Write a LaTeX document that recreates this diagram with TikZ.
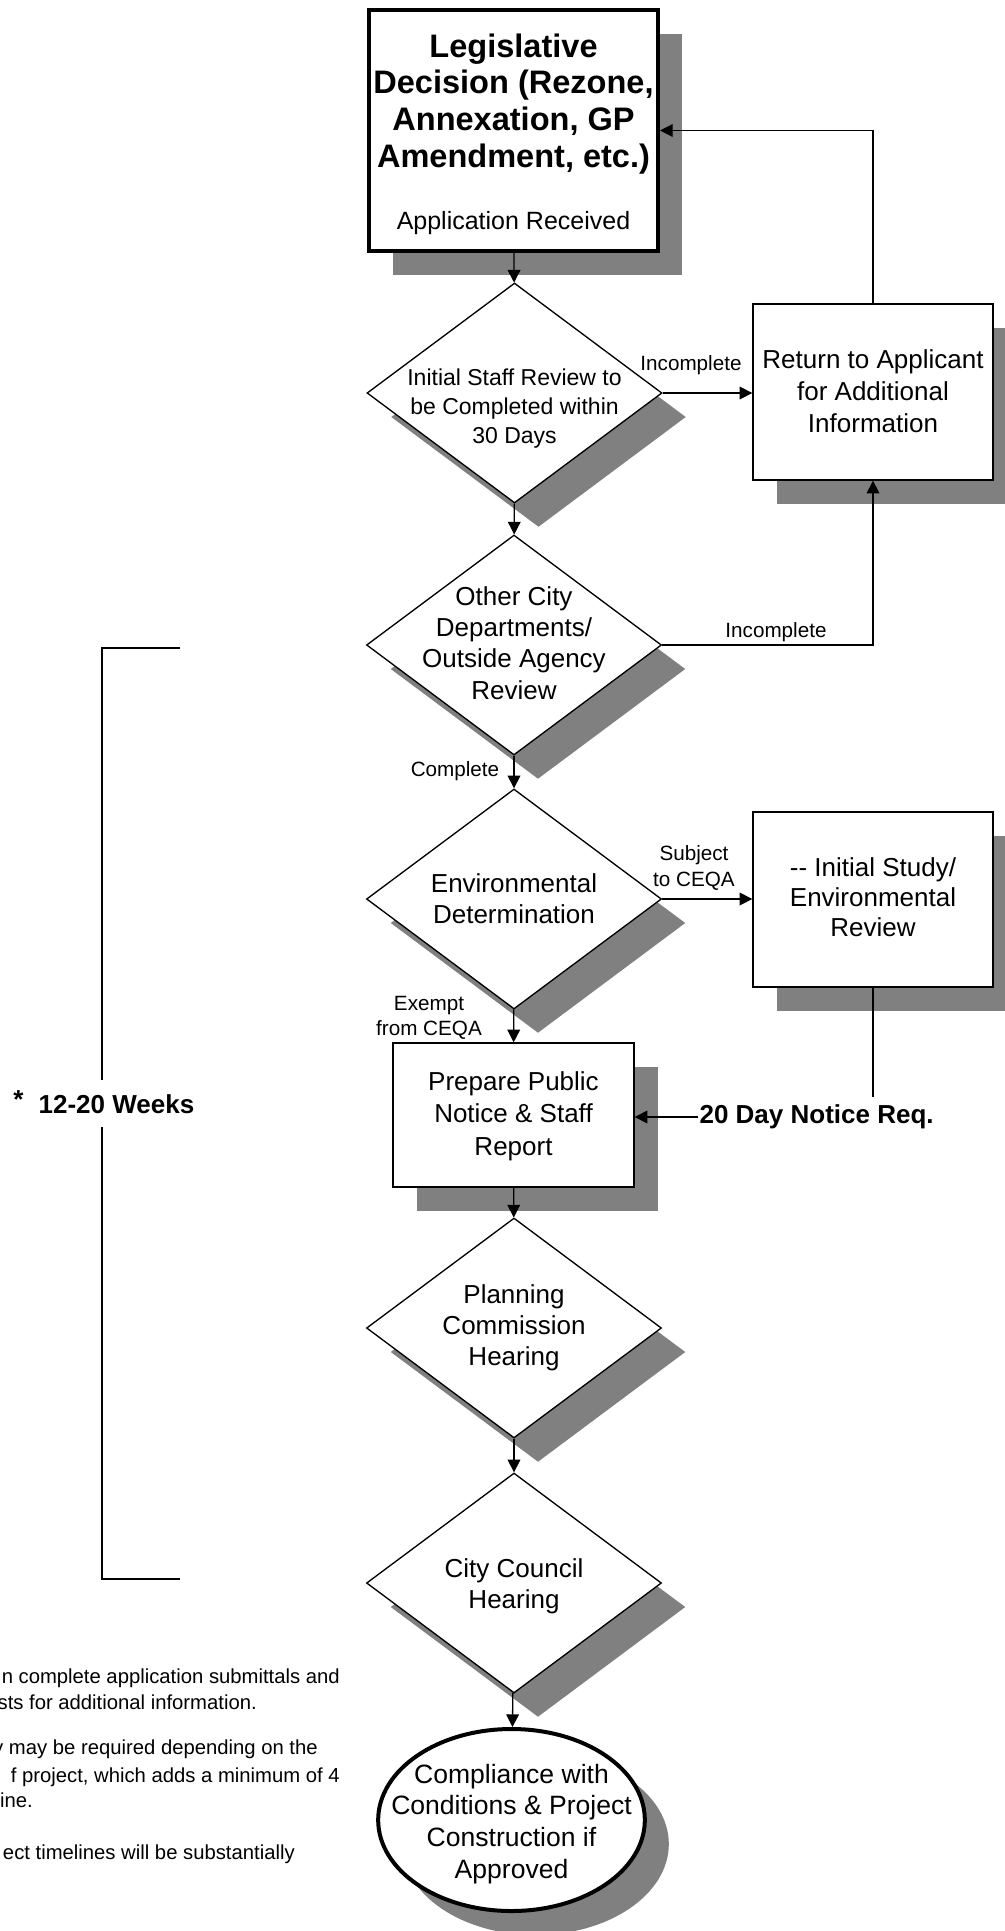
\documentclass[tikz,border=0pt]{standalone}
\usepackage{fontspec}
\setmainfont{Liberation Sans}
\usetikzlibrary{shapes.geometric,shadows,arrows.meta}

\newcommand{\inbox}[2]{\raisebox{#1}[0pt][0pt]{\makebox[0pt]{\parbox[t]{12cm}{\centering #2}}}}

\tikzset{
  dropgray/.style={drop shadow={shadow xshift=18pt,shadow yshift=-18pt,opacity=1,fill=black!50}},
  body/.style={font=\fontsize{19.5pt}{23.6pt}\selectfont},
  decision/.style={diamond,draw,fill=white,line width=1pt,inner sep=0pt,minimum width=221.25pt,minimum height=165pt,dropgray,body},
  procbox/.style={rectangle,draw,fill=white,line width=1pt,inner sep=0pt,minimum width=180pt,minimum height=132pt,dropgray,body},
  lbl/.style={inner sep=0pt,font=\fontsize{15.5pt}{19.5pt}\selectfont},
  note/.style={inner sep=0pt,anchor=base east,font=\fontsize{15.2pt}{20pt}\selectfont},
  arr/.style={line width=1pt,-{Triangle[length=9.5pt,width=9.5pt]}}
}

\begin{document}
\begin{tikzpicture}[x=0.75pt,y=-0.75pt]
    \useasboundingbox (0,0) rectangle (1005,1931);

    \node[procbox,line width=3pt,minimum width=216.75pt,minimum height=180.75pt] at (513.5,130.5)(title){\inbox{55pt}{\fontsize{24.4pt}{27.5pt}\bfseries Legislative\\Decision (Rezone,\\Annexation, GP\\Amendment, etc.)\\[19pt]\mdseries\fontsize{18.75pt}{27.5pt}\selectfont Application Received}};

    \node[decision] at (514.5,393)(staffrev){\inbox{6pt}{\fontsize{17.25pt}{21.75pt}\selectfont Initial Staff Review to\\be Completed within\\30 Days}};
    \node[procbox] at (873,392)(retapp){\inbox{18pt}{\fontsize{19.5pt}{24pt}\selectfont Return to Applicant\\for Additional\\Information}};
    \node[decision] at (514,645)(agencyrev){\inbox{30pt}{Other City\\Departments/\\Outside Agency\\Review}};
    \node[decision] at (514,899)(envdet){\inbox{5.25pt}{Environmental\\Determination}};
    \node[procbox,minimum height=131.25pt] at (873,899.5)(study){\inbox{17pt}{\fontsize{19.5pt}{22.5pt}\selectfont -\kern0pt- Initial Study/\\Environmental\\Review}};
    \node[procbox,minimum width=180.75pt,minimum height=108pt] at (513.5,1115)(prep){\inbox{18.75pt}{\fontsize{19.5pt}{24.4pt}\selectfont Prepare Public\\Notice \& Staff\\Report}};
    \node[decision] at (514,1328)(pchear){\inbox{18.75pt}{Planning\\Commission\\Hearing}};
    \node[decision] at (514,1583)(cchear){\inbox{4.5pt}{City Council\\Hearing}};
    \node[ellipse,draw,fill=white,line width=3pt,inner sep=0pt,minimum width=200pt,minimum height=136.5pt,dropgray] at (511.5,1820)(build){\inbox{27.75pt}{\fontsize{19.9pt}{23.8pt}\selectfont Compliance with\\Conditions \& Project\\Construction if\\Approved}};

    % branch labels
    \node[lbl,anchor=base] at (691,370)(inc1){Incomplete};
    \node[lbl,anchor=base] at (776,637)(inc2){Incomplete};
    \node[lbl,anchor=base] at (455,776)(compl){Complete};
    \node[lbl] at (694,860)(subj){\inbox{0pt}{Subject\\to CEQA}};
    \node[lbl] at (429,1010)(exempt){\inbox{0pt}{\fontsize{15.5pt}{18.75pt}\selectfont Exempt\\from CEQA}};
    \node[anchor=west,inner sep=1pt,font=\fontsize{19.5pt}{24pt}\bfseries] at (698,1117)(notice){20 Day Notice Req.};

    \draw[arr] (title) -- (staffrev);
    \draw[arr] (staffrev) -- (agencyrev);
    \draw[arr] (staffrev.east) -- (staffrev.east -| retapp.west);
    \draw[arr] (retapp.north) |- (title.east);
    \draw[arr] (agencyrev.east) -| (retapp.south);
    \draw[arr] (agencyrev) -- (envdet);
    \draw[arr] (envdet.east) -- (envdet.east -| study.west);
    \draw[arr] (envdet) -- (prep);
    \coordinate (noticetop) at (873,1097);
    \draw[line width=1pt] (study.south) -- (noticetop);
    \draw[arr] (notice.west) -- (notice.west -| prep.east);
    \draw[arr] (prep) -- (pchear);
    \draw[arr] (pchear) -- (cchear);
    \draw[arr] (cchear) -- (build);

    % time bracket
    \node[anchor=base west,inner sep=0pt,font=\fontsize{19.5pt}{24pt}\bfseries] at (13,1113)(weeks){\raisebox{3.5pt}{*}\hspace{6pt} 12-20 Weeks};
    \draw[line width=1pt] (180,648) -- (102,648) -- (102,1080);
    \draw[line width=1pt] (102,1127) -- (102,1579) -- (180,1579);

    % footnotes
    \node[note] at (340,1683)(n1){n complete application submittals and};
    \node[note] at (257,1709)(n2){sts for additional information.};
    \node[note] at (318,1754)(n3){y may be required depending on the};
    \node[note] at (340,1782)(n4){f project, which adds a minimum of 4};
    \node[note] at (33,1807)(n5){ine.};
    \node[note] at (295,1859)(n6){ect timelines will be substantially};
\end{tikzpicture}
\end{document}
